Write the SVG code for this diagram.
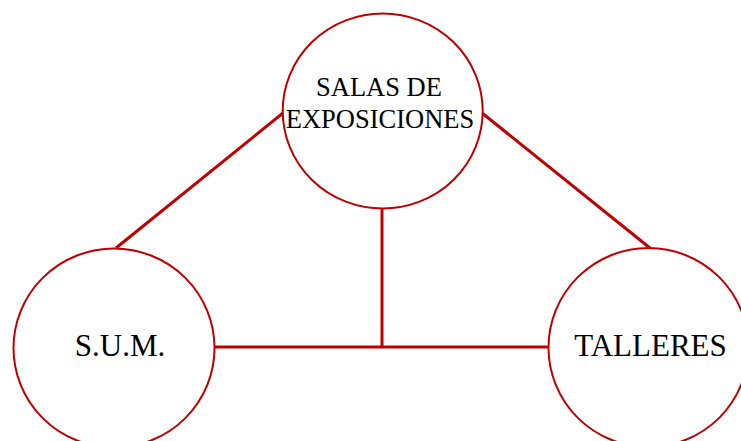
<svg xmlns="http://www.w3.org/2000/svg" width="741" height="441" viewBox="0 0 741 441">
<style>
.node{fill:#ffffff;stroke:#C00000;stroke-width:2}
.conn{stroke:#C00000;stroke-width:3;fill:none}
.lbl{font-family:"Liberation Serif","Times New Roman",serif;fill:#000000;text-anchor:middle}
</style>
<rect width="741" height="441" fill="#ffffff"/>
<g id="connectors">
<line class="conn" x1="283" y1="113" x2="116" y2="248"/>
<line class="conn" x1="482" y1="113" x2="650" y2="248"/>
<line class="conn" x1="382" y1="208" x2="382" y2="347"/>
<line class="conn" x1="214" y1="347" x2="548" y2="347"/>
</g>
<g id="salas">
<ellipse class="node" cx="382.7" cy="111" rx="100" ry="97.5"/>
<text class="lbl" x="379" y="96" font-size="26.5">SALAS DE</text>
<text class="lbl" x="380" y="128" font-size="26.5">EXPOSICIONES</text>
</g>
<g id="sum">
<ellipse class="node" cx="114" cy="348" rx="100.5" ry="99.5"/>
<text class="lbl" x="120" y="356" font-size="31">S.U.M.</text>
</g>
<g id="talleres">
<ellipse class="node" cx="648.5" cy="347.5" rx="100" ry="99.5"/>
<text class="lbl" x="650.5" y="356" font-size="31">TALLERES</text>
</g>
</svg>
